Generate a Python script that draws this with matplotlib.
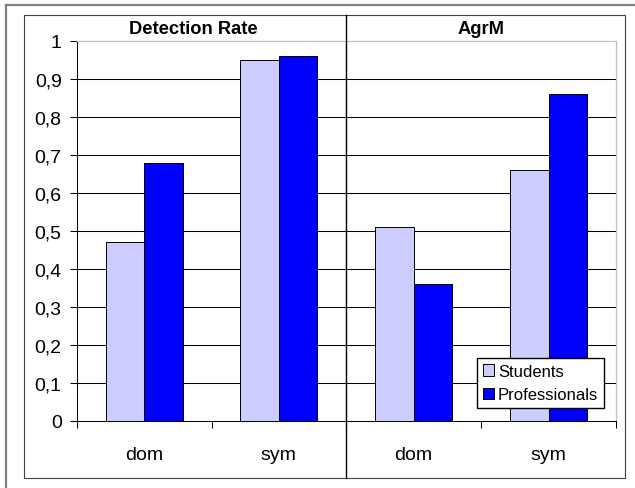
import matplotlib
matplotlib.use('Agg')
import matplotlib.pyplot as plt
import numpy as np
from matplotlib.lines import Line2D
from matplotlib.patches import Rectangle

plt.rcParams['font.family'] = ['Liberation Sans', 'DejaVu Sans']

panels = ['Detection Rate', 'AgrM']
categories = ['dom', 'sym']
students = [[0.47, 0.95], [0.51, 0.66]]
professionals = [[0.68, 0.96], [0.36, 0.86]]
yticks = [0, 0.1, 0.2, 0.3, 0.4, 0.5, 0.6, 0.7, 0.8, 0.9, 1.0]
ytick_labels = ['0', '0,1', '0,2', '0,3', '0,4', '0,5', '0,6', '0,7', '0,8', '0,9', '1']

W, H = 635, 489
fig = plt.figure(figsize=(W / 100, H / 100), dpi=100)

def fx(px):
    return px / W

def fy(py):
    return 1 - py / H

# outer frame and chart border
fig.add_artist(Line2D([fx(6), 1], [fy(6), fy(6)], color='#808080', lw=1.6))
fig.add_artist(Line2D([fx(6), fx(6)], [fy(6), 0], color='#808080', lw=1.6))
fig.add_artist(Rectangle((fx(24), fy(479)), fx(625) - fx(24), fy(16) - fy(479),
                         fill=False, edgecolor='#404040', lw=0.8))

bar_w = 1 / 3.5
x = np.arange(len(categories))
bounds = [(77, 346), (346, 616)]
title_x = [193, 481]
axes = []
for i, (x0, x1) in enumerate(bounds):
    ax = fig.add_axes([fx(x0), fy(422), fx(x1) - fx(x0), fy(42) - fy(422)])
    ax.bar(x - bar_w / 2, students[i], bar_w, color='#CCCCFF',
           edgecolor='black', linewidth=0.7, zorder=3, label='Students')
    ax.bar(x + bar_w / 2, professionals[i], bar_w, color='#0000FF',
           edgecolor='black', linewidth=0.7, zorder=3, label='Professionals')
    ax.set_xlim(-0.5, 1.5)
    ax.set_ylim(0, 1)
    ax.set_yticks(yticks)
    for y in yticks[1:-1]:
        ax.axhline(y, color='black', lw=0.75, zorder=1)
    ax.set_xticks(x)
    ax.set_xticklabels(categories, fontsize=14)
    ax.set_xticks([-0.5, 0.5, 1.5], minor=True)
    ax.tick_params(axis='x', which='major', length=0, pad=18)
    ax.tick_params(axis='x', which='minor', length=5, width=0.75, direction='out')
    for s in ['top', 'right']:
        ax.spines[s].set_color('#C0C0C0')
        ax.spines[s].set_linewidth(0.9)
    ax.spines['bottom'].set_color('black')
    ax.spines['bottom'].set_linewidth(0.75)
    if i == 0:
        ax.set_yticklabels(ytick_labels, fontsize=14)
        ax.tick_params(axis='y', length=5, width=0.75, pad=6)
        ax.spines['left'].set_color('black')
        ax.spines['left'].set_linewidth(0.75)
    else:
        ax.spines['left'].set_visible(False)
        ax.tick_params(axis='y', length=0, labelleft=False)
    fig.text(fx(title_x[i]), fy(29), panels[i], ha='center', va='center',
             fontsize=13.2, fontweight='bold')
    axes.append(ax)

# panel divider
fig.add_artist(Line2D([fx(346), fx(346)], [fy(16), fy(479)], color='black', lw=1.0))

handles, labels = axes[1].get_legend_handles_labels()
fig.legend(handles, labels, loc='upper left',
           bbox_to_anchor=(fx(477), fy(359)), fontsize=12,
           frameon=True, fancybox=False, edgecolor='black', framealpha=1,
           borderaxespad=0, borderpad=0.35, handlelength=0.65, handleheight=0.65,
           handletextpad=0.25, labelspacing=0.5)

fig.savefig('out.png', dpi=100)
